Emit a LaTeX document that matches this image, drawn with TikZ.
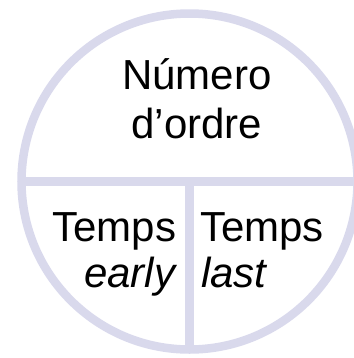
\documentclass[tikz,border=0pt]{standalone}
\usepackage{fontspec}
\setmainfont{Liberation Sans}
\definecolor{lav}{RGB}{217,217,236}
\begin{document}
\begin{tikzpicture}[x=1bp,y=-1bp,
  ring/.style={circle,draw=lav,line width=8.5bp,minimum size=336bp,inner sep=0pt,outer sep=0pt},
  divider/.style={draw=lav,line width=8.5bp},
  lbl/.style={inner sep=0pt,font=\fontsize{42bp}{50bp}\selectfont,text=black}]
\useasboundingbox (0,0) rectangle (354,358);
\clip (0,0) rectangle (354,358);
\node[ring] (c) at (189.5,181.5) {};
\coordinate (rightend) at (360,181.5);
\draw[divider] (c.west) -- (rightend);
\draw[divider] (c.center) -- (c.south);
\node[lbl,anchor=base] (n1) at (197,89.5) {Número};
\node[lbl,anchor=base] (n2) at (197,138) {d’ordre};
\node[lbl,anchor=base east] (t1) at (176.5,241.5) {Temps};
\node[lbl,anchor=base east] (e1) at (175.5,287) {\itshape early};
\node[lbl,anchor=base west] (t2) at (200,241.5) {Temps};
\node[lbl,anchor=base west] (l2) at (201,287) {\itshape last};
\end{tikzpicture}
\end{document}
